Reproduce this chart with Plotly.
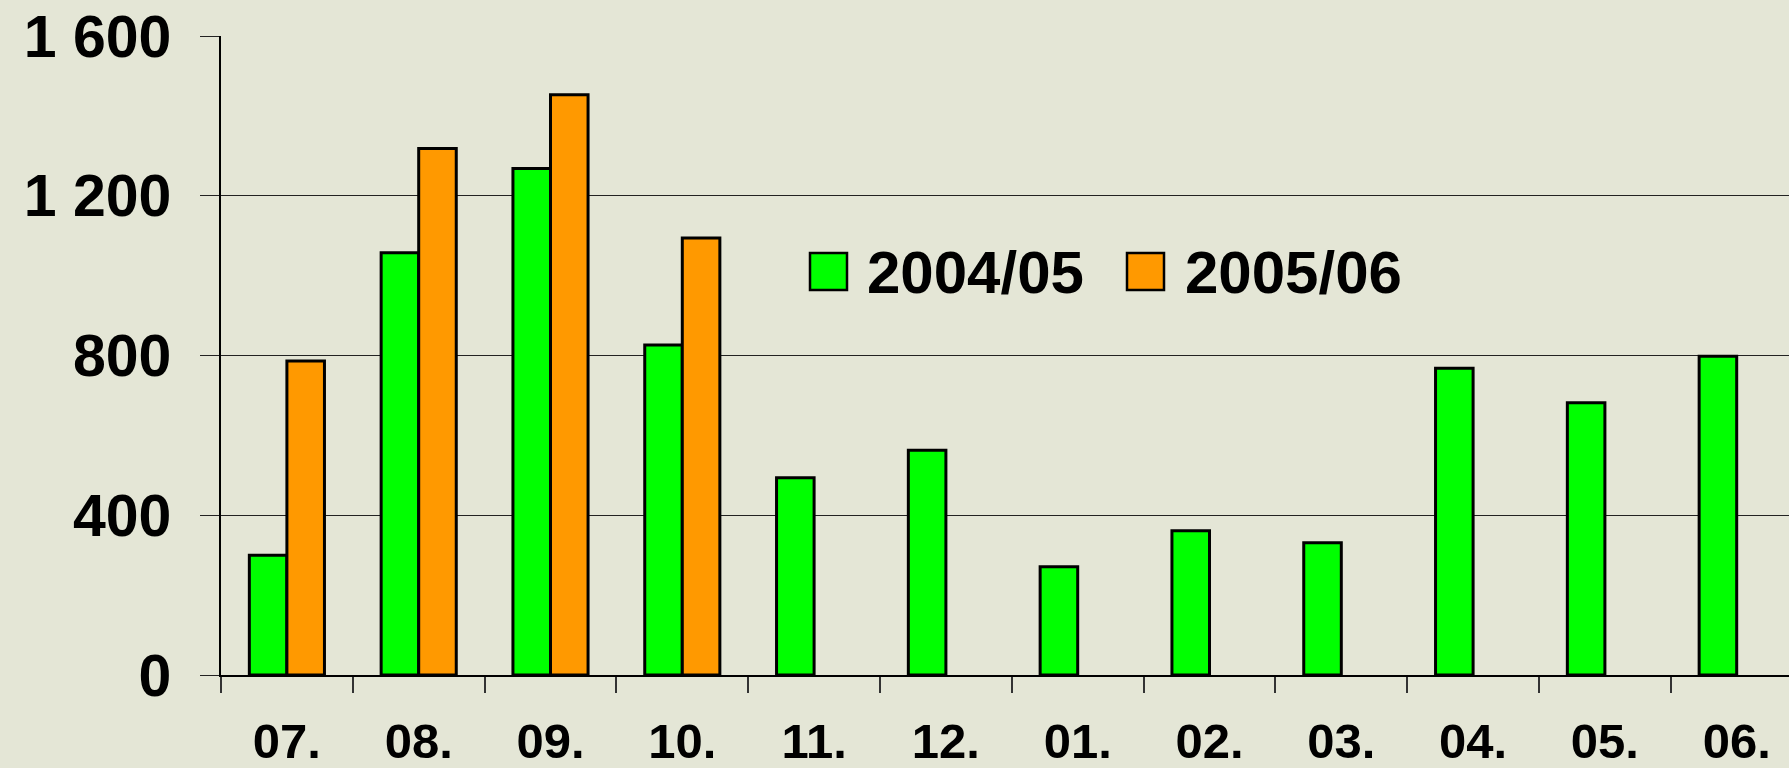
import plotly.graph_objects as go

months = ["07.", "08.", "09.", "10.", "11.", "12.", "01.", "02.", "03.", "04.", "05.", "06."]
series_names = ["2004/05", "2005/06"]
values_2004_05 = [300, 1057, 1268, 826, 494, 563, 271, 361, 331, 768, 682, 798]
values_2005_06 = [786, 1318, 1453, 1094, None, None, None, None, None, None, None, None]
series_colors = ["#00ff00", "#ff9900"]
y_tick_vals = [0, 400, 800, 1200, 1600]
y_tick_text = ["0", "400", "800", "1 200", "1 600"]

W, H = 1789, 768
ML, MR, MT, MB = 221, 0, 36, 93
PW, PH = W - ML - MR, H - MT - MB
BG = "#e4e6d6"
FONT = "Liberation Sans, Arial, sans-serif"

fig = go.Figure()
for name, vals, col in zip(series_names, [values_2004_05, values_2005_06], series_colors):
    fig.add_trace(go.Bar(
        x=months, y=vals, name=name,
        marker=dict(color=col, line=dict(color="#000000", width=3)),
        showlegend=False,
    ))

def px_x(p):
    return (p - ML) / PW

def px_y(p):
    return (H - MB - p) / PH

# manual legend (large squares like the original)
legend_items = [(810, 865), (1127, 1183)]
shapes = []
annotations = []
for (sq_x, tx_x), name, col in zip(legend_items, series_names, series_colors):
    shapes.append(dict(type="rect", xref="paper", yref="paper",
                       x0=px_x(sq_x), x1=px_x(sq_x + 37),
                       y0=px_y(290), y1=px_y(253),
                       fillcolor=col, line=dict(color="#000000", width=2.5), layer="above"))
    annotations.append(dict(xref="paper", yref="paper", x=px_x(tx_x), y=px_y(272),
                            xanchor="left", yanchor="middle", showarrow=False,
                            text=name, font=dict(family=FONT, size=60, color="#000000", weight="bold")))

fig.update_layout(
    width=W, height=H,
    margin=dict(l=ML, r=MR, t=MT, b=MB, pad=0),
    paper_bgcolor=BG, plot_bgcolor=BG,
    barmode="group", bargap=0.43, bargroupgap=0,
    shapes=shapes, annotations=annotations,
    font=dict(family=FONT, color="#000000"),
)
fig.update_xaxes(
    type="category", range=[-0.5, -0.5 + PW / 131.8],
    showline=True, linecolor="#000000", linewidth=1.5,
    ticks="outside", tickson="boundaries", ticklen=16, tickcolor="#333333", tickwidth=1.5,
    showgrid=False, zeroline=False,
    tickfont=dict(family=FONT, size=49, color="#000000", weight="bold"),
    ticklabelstandoff=22,
)
fig.update_yaxes(
    range=[0, 1600], tickvals=y_tick_vals, ticktext=y_tick_text,
    showgrid=True, gridcolor="#222222", gridwidth=1,
    showline=True, linecolor="#000000", linewidth=1.5,
    ticks="outside", ticklen=19, tickcolor="#222222", tickwidth=1,
    zeroline=False,
    tickfont=dict(family=FONT, size=59, color="#000000", weight="bold"),
    ticklabelstandoff=17,
)

fig.write_html(
    "out.html",
    config={"displayModeBar": False},
    post_script="document.body.style.margin='0';document.body.style.padding='0';"
                "document.body.style.overflow='hidden';document.body.style.background='%s';" % BG,
)
